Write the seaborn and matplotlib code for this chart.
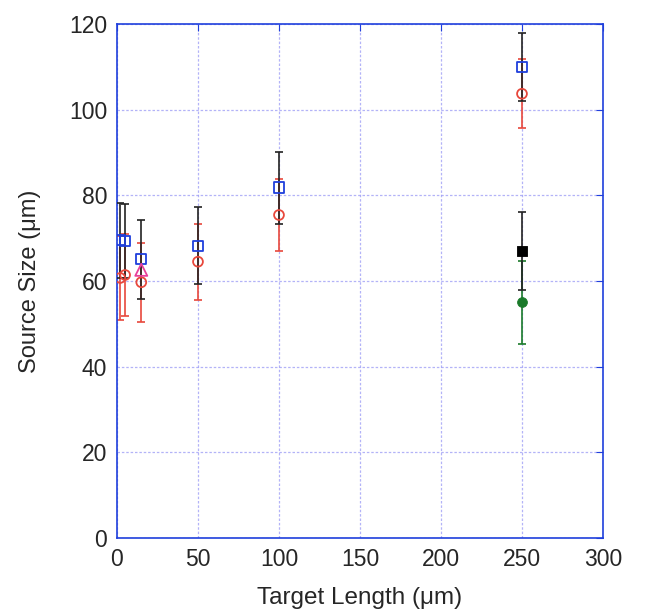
import matplotlib
matplotlib.use("Agg")
import matplotlib.pyplot as plt
import seaborn as sns
import pandas as pd

# Data
sq_x = [2, 5, 15, 50, 100, 250]
sq_y = [69.5, 69.3, 65.1, 68.2, 81.8, 110.0]
sq_err = [8.7, 8.7, 9.2, 9.0, 8.4, 7.9]

ci_x = [2, 5, 15, 50, 100, 250]
ci_y = [60.7, 61.4, 59.7, 64.5, 75.4, 103.7]
ci_err = [9.8, 9.5, 9.2, 8.9, 8.3, 8.0]

tri_x = [15]
tri_y = [62.6]

bsq_x = [250]
bsq_y = [67.0]
bsq_err = [9.0]

gci_x = [250]
gci_y = [55.0]
gci_err = [9.6]

x_ticks = [0, 50, 100, 150, 200, 250, 300]
y_ticks = [0, 20, 40, 60, 80, 100, 120]

sns.set_style("white")
plt.rcParams['font.family'] = ['Liberation Sans', 'DejaVu Sans']

fig = plt.figure(figsize=(6.55, 6.12), dpi=100)
ax = fig.add_axes([0.1786, 0.1209, 0.742, 0.840])

blue = "#1f3fdc"
red = "#e8483c"
black = "#222222"
green = "#1a7a2a"
pink = "#e8409a"

# error bars
ax.errorbar(ci_x, ci_y, yerr=ci_err, fmt="none", ecolor=red, elinewidth=1.2, capsize=3, capthick=1.2, zorder=2)
ax.errorbar(gci_x, gci_y, yerr=gci_err, fmt="none", ecolor=green, elinewidth=1.2, capsize=3, capthick=1.2, zorder=2)
ax.errorbar(sq_x, sq_y, yerr=sq_err, fmt="none", ecolor=black, elinewidth=1.2, capsize=3, capthick=1.2, zorder=3)
ax.errorbar(bsq_x, bsq_y, yerr=bsq_err, fmt="none", ecolor=black, elinewidth=1.2, capsize=3, capthick=1.2, zorder=3)

# markers
sns.scatterplot(x=sq_x, y=sq_y, ax=ax, marker="s", s=55, facecolor="none", edgecolor=blue, linewidth=1.3, zorder=5)
sns.scatterplot(x=ci_x, y=ci_y, ax=ax, marker="o", s=50, facecolor="none", edgecolor=red, linewidth=1.3, zorder=5)
sns.scatterplot(x=tri_x, y=tri_y, ax=ax, marker="^", s=75, facecolor="none", edgecolor=pink, linewidth=1.3, zorder=5)
sns.scatterplot(x=bsq_x, y=bsq_y, ax=ax, marker="s", s=60, color="black", edgecolor="black", zorder=5)
sns.scatterplot(x=gci_x, y=gci_y, ax=ax, marker="o", s=50, color=green, edgecolor=green, zorder=5)

ax.set_xlim(0, 300)
ax.set_ylim(0, 120)
ax.set_xticks(x_ticks)
ax.set_yticks(y_ticks)
ax.grid(True, color="#9a9af5", linestyle=(0, (2, 1.5)), linewidth=0.9, alpha=0.75)
for s in ax.spines.values():
    s.set_color(blue)
    s.set_linewidth(1.2)
ax.tick_params(direction="in", length=5, color=blue, labelsize=16.5, pad=7, top=True, right=True, labeltop=False, labelright=False)
ax.set_xlabel("Target Length (μm)", fontsize=17.5, labelpad=12)
ax.set_ylabel("Source Size (μm)", fontsize=17, labelpad=20)

fig.savefig("out.png", dpi=100)
